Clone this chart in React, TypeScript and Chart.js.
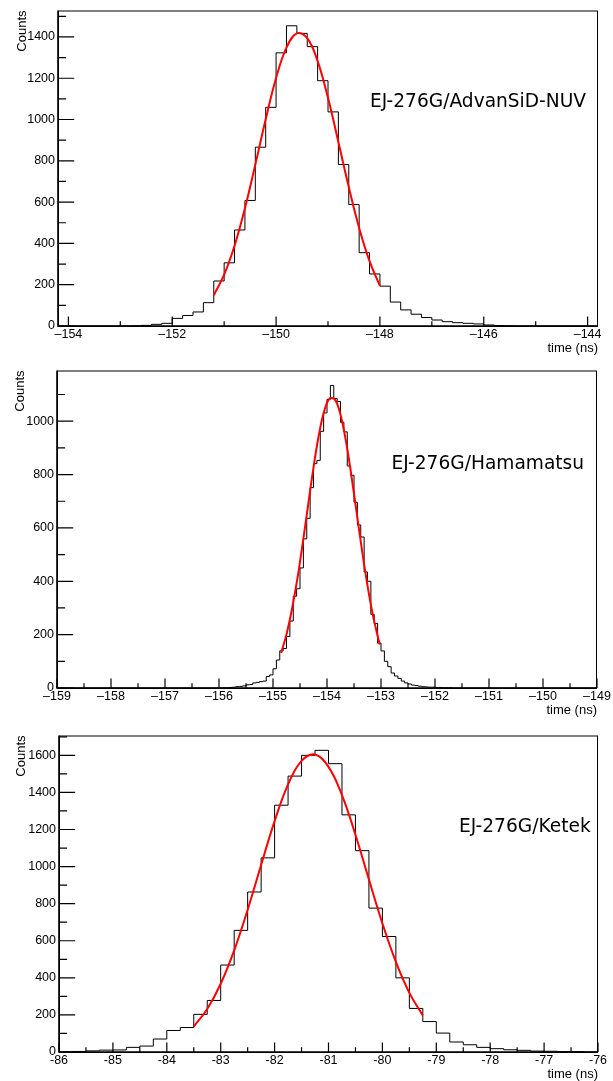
import React, { useEffect, useRef } from 'react';
import { Chart, registerables } from 'chart.js';

Chart.register(...registerables);

// ---------- Panel 1: EJ-276G/AdvanSiD-NUV ----------
const p1Label = 'EJ-276G/AdvanSiD-NUV';
const p1BinStart = -152.8; // left edge of first listed bin (ns)
const p1BinWidth = 0.2;
const p1Counts = [1, 3, 8, 13, 37, 51, 68, 113, 218, 306, 465, 608, 866, 1059, 1323, 1454, 1417, 1353, 1188, 1037, 782, 588, 355, 252, 193, 116, 78, 57, 41, 29, 21, 16, 13, 10, 5, 2, 1];
const p1FitX = [-151.2, -151.0, -150.8, -150.6, -150.4, -150.2, -150.0, -149.8, -149.6, -149.4, -149.2, -149.0, -148.8, -148.6, -148.4, -148.2, -148.0];
const p1FitY = [149, 249, 389, 570, 781, 1001, 1201, 1348, 1417, 1394, 1283, 1105, 891, 673, 475, 314, 194];
const p1XMajor = [-154, -152, -150, -148, -146, -144];
const p1XMinor = [-153, -151, -149, -147, -145];
const p1YMajor = [0, 200, 400, 600, 800, 1000, 1200, 1400];
const p1YMinor = [100, 300, 500, 700, 900, 1100, 1300, 1500];

// ---------- Panel 2: EJ-276G/Hamamatsu ----------
const p2Label = 'EJ-276G/Hamamatsu';
const p2BinStart = -156.0;
const p2BinWidth = 0.0625;
const p2Counts = [
  0, 1, 1, 2, 3, 5, 6, 8,
  12, 13, 19, 21, 24, 26, 43, 49,
  72, 105, 139, 148, 193, 251, 344, 372,
  450, 559, 636, 751, 841, 853, 962, 1031,
  1082, 1134, 1085, 1074, 996, 960, 832, 797,
  696, 611, 566, 435, 400, 276, 242, 168,
  139, 100, 80, 56, 45, 36, 26, 19,
  15, 11, 9, 7, 5, 4, 3, 3,
  2, 2, 1, 1, 1,
];
const p2FitX = [-154.85, -154.75, -154.65, -154.55, -154.45, -154.35, -154.25, -154.15, -154.05, -153.95, -153.85, -153.75, -153.65, -153.55, -153.45, -153.35, -153.25, -153.15, -153.05, -153.02];
const p2FitY = [131, 201, 294, 408, 542, 685, 826, 949, 1039, 1085, 1080, 1024, 926, 798, 656, 514, 384, 273, 185, 163];
const p2XMajor = [-159, -158, -157, -156, -155, -154, -153, -152, -151, -150, -149];
const p2XMinor = [-158.5, -157.5, -156.5, -155.5, -154.5, -153.5, -152.5, -151.5, -150.5, -149.5];
const p2YMajor = [0, 200, 400, 600, 800, 1000];
const p2YMinor = [100, 300, 500, 700, 900, 1100];

// ---------- Panel 3: EJ-276G/Ketek ----------
const p3Label = 'EJ-276G/Ketek';
const p3BinStart = -86.0;
const p3BinWidth = 0.25;
const p3Counts = [1, 3, 6, 10, 11, 25, 32, 70, 116, 132, 203, 278, 469, 656, 863, 1047, 1331, 1488, 1600, 1627, 1555, 1279, 1086, 776, 623, 400, 235, 164, 102, 54, 39, 25, 18, 12, 9, 5, 4, 2, 2, 0];
const p3FitX = [-83.5, -83.25, -83.0, -82.75, -82.5, -82.25, -82.0, -81.75, -81.5, -81.25, -81.0, -80.75, -80.5, -80.25, -80.0, -79.75, -79.5, -79.25];
const p3FitY = [137, 232, 368, 548, 767, 1009, 1245, 1443, 1570, 1604, 1538, 1386, 1172, 930, 694, 486, 319, 197];
const p3XMajor = [-86, -85, -84, -83, -82, -81, -80, -79, -78, -77, -76];
const p3XMinor = [-85.5, -84.5, -83.5, -82.5, -81.5, -80.5, -79.5, -78.5, -77.5, -76.5];
const p3YMajor = [0, 200, 400, 600, 800, 1000, 1200, 1400, 1600];
const p3YMinor = [100, 300, 500, 700, 900, 1100, 1300, 1500, 1700];

const W = 613;
const TICK_FONT = '"Liberation Sans", Arial, Helvetica, sans-serif';

type PanelCfg = {
  top: number;
  height: number;
  l: number; t: number; r: number; b: number;
  xMin: number; xMax: number; yMax: number;
  xMajor: number[]; xMinor: number[]; yMajor: number[]; yMinor: number[];
  minus: string;
  binStart: number; binWidth: number; counts: number[];
  fitX: number[]; fitY: number[];
  label: string; labelX: number; labelY: number; countsX: number;
};

const panels: PanelCfg[] = [
  {
    top: 0, height: 360, l: 58, t: 6, r: 598, b: 326,
    xMin: -154.2, xMax: -143.8, yMax: 1528,
    xMajor: p1XMajor, xMinor: p1XMinor, yMajor: p1YMajor, yMinor: p1YMinor,
    minus: '\u2013',
    binStart: p1BinStart, binWidth: p1BinWidth, counts: p1Counts,
    fitX: p1FitX, fitY: p1FitY,
    label: p1Label, labelX: 370, labelY: 106.5, countsX: 22,
  },
  {
    top: 360, height: 365, l: 57, t: 9, r: 597, b: 328,
    xMin: -159, xMax: -149, yMax: 1190,
    xMajor: p2XMajor, xMinor: p2XMinor, yMajor: p2YMajor, yMinor: p2YMinor,
    minus: '\u2013',
    binStart: p2BinStart, binWidth: p2BinWidth, counts: p2Counts,
    fitX: p2FitX, fitY: p2FitY,
    label: p2Label, labelX: 391.5, labelY: 109, countsX: 20,
  },
  {
    top: 725, height: 356, l: 59, t: 8, r: 598, b: 327,
    xMin: -86, xMax: -76, yMax: 1707,
    xMajor: p3XMajor, xMinor: p3XMinor, yMajor: p3YMajor, yMinor: p3YMinor,
    minus: '-',
    binStart: p3BinStart, binWidth: p3BinWidth, counts: p3Counts,
    fitX: p3FitX, fitY: p3FitY,
    label: p3Label, labelX: 459, labelY: 107, countsX: 21.5,
  },
];

function histPoints(p: PanelCfg) {
  const pts: { x: number; y: number }[] = [{ x: p.xMin, y: 0 }];
  p.counts.forEach((c, i) => pts.push({ x: p.binStart + i * p.binWidth, y: c }));
  pts.push({ x: p.binStart + p.counts.length * p.binWidth, y: 0 });
  pts.push({ x: p.xMax, y: 0 });
  return pts;
}

function makePlugin(p: PanelCfg) {
  return {
    id: 'rootStyle',
    afterDraw(chart: any) {
      const ctx: CanvasRenderingContext2D = chart.ctx;
      const a = chart.chartArea;
      const xs = chart.scales.x;
      const ys = chart.scales.y;
      ctx.save();
      ctx.strokeStyle = '#000';
      // frame
      ctx.lineWidth = 1;
      ctx.strokeRect(a.left + 0.5, a.top + 0.5, a.right - a.left - 1, a.bottom - a.top);
      // thicker axes
      ctx.lineWidth = 1.6;
      ctx.beginPath();
      ctx.moveTo(a.left, a.top);
      ctx.lineTo(a.left, a.bottom);
      ctx.lineTo(a.right, a.bottom);
      ctx.stroke();
      // tick marks (inside)
      const plotH = a.bottom - a.top;
      const plotW = a.right - a.left;
      const xMajLen = plotH * 0.03;
      const yMajLen = plotW * 0.03;
      ctx.lineWidth = 1.2;
      ctx.beginPath();
      const xt = (v: number, len: number) => {
        const px = xs.getPixelForValue(v);
        ctx.moveTo(px, a.bottom);
        ctx.lineTo(px, a.bottom - len);
      };
      const yt = (v: number, len: number) => {
        const py = ys.getPixelForValue(v);
        ctx.moveTo(a.left, py);
        ctx.lineTo(a.left + len, py);
      };
      p.xMajor.forEach((v) => xt(v, xMajLen));
      p.xMinor.forEach((v) => xt(v, xMajLen / 2));
      p.yMajor.forEach((v) => yt(v, yMajLen));
      p.yMinor.forEach((v) => { if (v <= p.yMax) yt(v, yMajLen / 2); });
      ctx.stroke();
      // axis titles
      ctx.fillStyle = '#000';
      ctx.font = `13px ${TICK_FONT}`;
      ctx.textAlign = 'right';
      ctx.textBaseline = 'alphabetic';
      ctx.fillText('time (ns)', a.right, a.bottom + 25.5);
      ctx.save();
      ctx.translate(p.countsX, a.top);
      ctx.rotate(-Math.PI / 2);
      ctx.textAlign = 'right';
      ctx.textBaseline = 'middle';
      ctx.fillText('Counts', 0, 0);
      ctx.restore();
      // detector label
      ctx.font = '18.6px "DejaVu Sans", sans-serif';
      ctx.textAlign = 'left';
      ctx.textBaseline = 'alphabetic';
      ctx.fillText(p.label, p.labelX, p.labelY);
      ctx.restore();
    },
  };
}

function Panel({ p }: { p: PanelCfg }) {
  const ref = useRef<HTMLCanvasElement>(null);
  useEffect(() => {
    if (!ref.current) return;
    const fmt = (v: number) => (v < 0 ? p.minus + String(Math.abs(v)) : String(v));
    const chart = new Chart(ref.current, {
      type: 'line',
      data: {
        datasets: [
          {
            data: p.fitX.map((x, i) => ({ x, y: p.fitY[i] })),
            borderColor: '#ff0000',
            borderWidth: 2,
            pointRadius: 0,
            tension: 0.4,
            fill: false,
            order: 0,
          },
          {
            data: histPoints(p),
            borderColor: '#000000',
            borderWidth: 1,
            pointRadius: 0,
            stepped: true,
            fill: false,
            order: 1,
          },
        ] as any,
      },
      options: {
        responsive: false,
        animation: false,
        events: [],
        layout: { padding: { left: 0, top: p.t, right: W - p.r, bottom: 0 } },
        plugins: { legend: { display: false }, tooltip: { enabled: false }, title: { display: false } },
        scales: {
          x: {
            type: 'linear',
            min: p.xMin,
            max: p.xMax,
            grid: { display: false, drawTicks: false },
            border: { display: false },
            afterBuildTicks: (s: any) => { s.ticks = p.xMajor.map((v) => ({ value: v })); },
            afterFit: (s: any) => { s.height = p.height - p.b; },
            ticks: {
              autoSkip: false,
              maxRotation: 0,
              minRotation: 0,
              padding: 1,
              color: '#000',
              font: { family: TICK_FONT, size: 12.5 },
              callback: (v: any) => fmt(Number(v)),
            },
          },
          y: {
            type: 'linear',
            min: 0,
            max: p.yMax,
            grid: { display: false, drawTicks: false },
            border: { display: false },
            afterBuildTicks: (s: any) => { s.ticks = p.yMajor.map((v) => ({ value: v })); },
            afterFit: (s: any) => { s.width = p.l; },
            ticks: {
              autoSkip: false,
              padding: 3,
              color: '#000',
              font: { family: TICK_FONT, size: 12.5 },
              callback: (v: any) => String(v),
            },
          },
        },
      } as any,
      plugins: [makePlugin(p)],
    });
    return () => chart.destroy();
  }, [p]);
  return (
    <canvas
      ref={ref}
      width={W}
      height={p.height}
      style={{ position: 'absolute', left: 0, top: p.top, width: W, height: p.height }}
    />
  );
}

export default function App() {
  return (
    <div style={{ position: 'absolute', left: 0, top: 0, width: W, height: 1081, background: '#fff' }}>
      {panels.map((p, i) => (
        <Panel key={i} p={p} />
      ))}
    </div>
  );
}
